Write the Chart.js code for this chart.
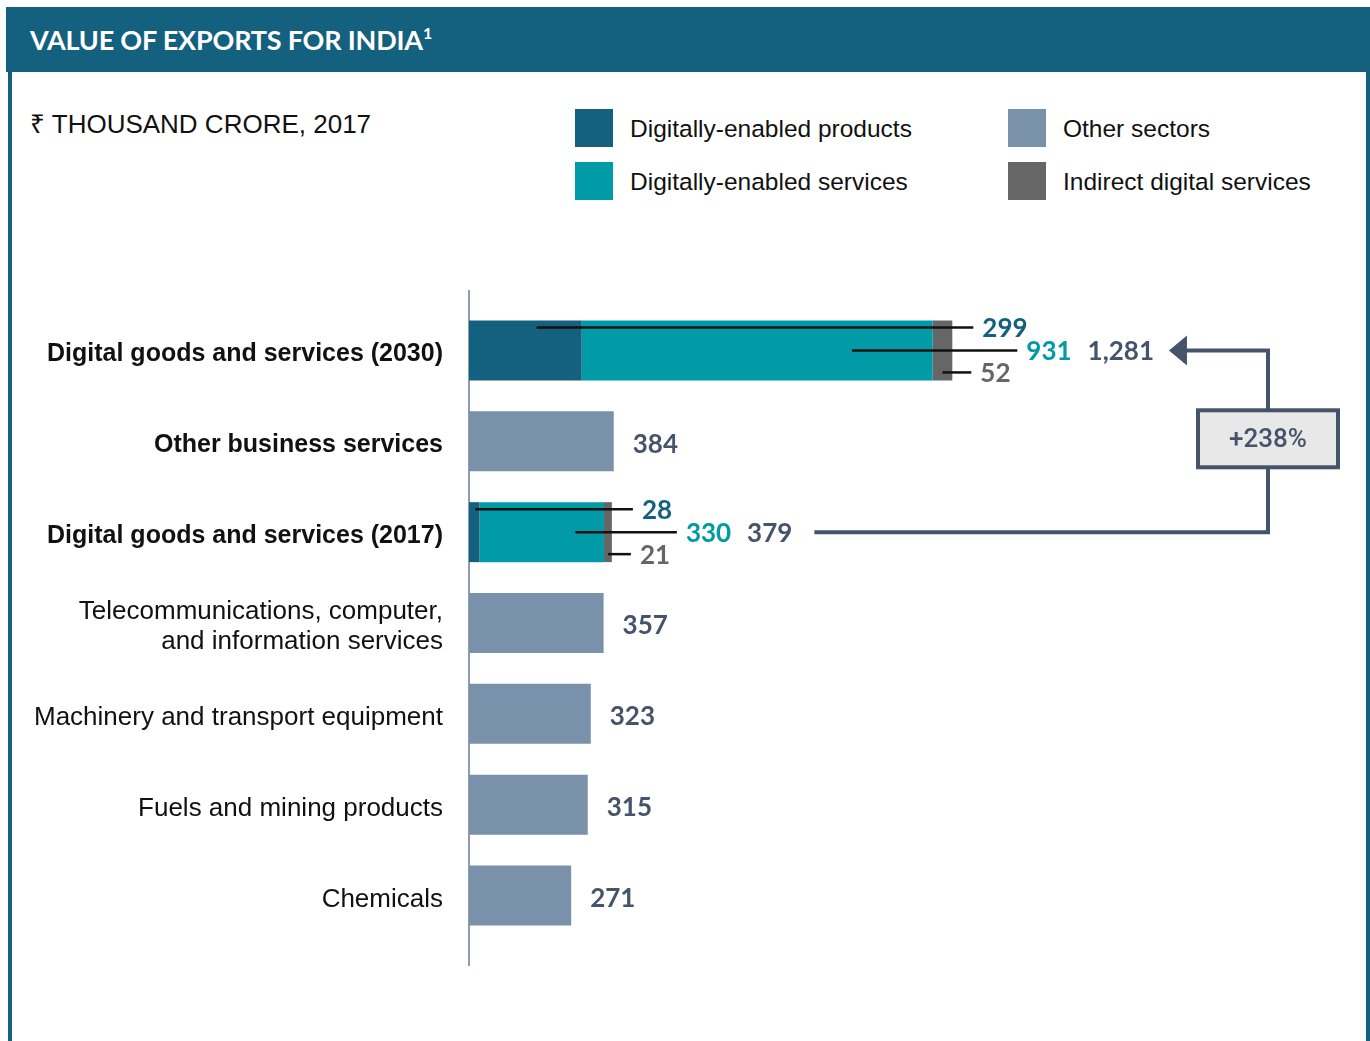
<!DOCTYPE html>
<html>
<head>
<meta charset="utf-8">
<script src="https://cdn.jsdelivr.net/npm/chart.js@4/dist/chart.umd.min.js"></script>
<style>
  html, body { margin: 0; padding: 0; background: #fff; }
  body { width: 1370px; height: 1041px; position: relative; overflow: hidden; font-family: "Liberation Sans", Arial, sans-serif; color: #111; }
  .frame { position: absolute; left: 8px; top: 7px; width: 1354px; height: 1040px; border-left: 4px solid #14607f; border-right: 4px solid #14607f; }
  .header { position: absolute; left: 6px; top: 7px; width: 1360px; height: 65px; background: #14607f; }
  .header h1 { margin: 0; position: absolute; left: 24px; top: 16px; font: 700 27px Lato, sans-serif; color: #fff; letter-spacing: -0.2px; }
  .header h1 sup { font-size: 16px; position: relative; top: -1px; }
  .subtitle { position: absolute; left: 30px; top: 105px; font-size: 26px; }
  .legend { position: absolute; font-size: 24.5px; }
  .legend i { position: absolute; left: 0; top: 0; width: 38px; height: 38px; }
  .legend span { position: absolute; left: 55px; top: 6px; white-space: nowrap; }
  #wrap { position: absolute; left: 0; top: 0; width: 1370px; height: 1041px; }
</style>
</head>
<body>
<div class="frame"></div>
<div class="header"><h1>VALUE OF EXPORTS FOR INDIA<sup>1</sup></h1></div>
<div class="subtitle">₹ THOUSAND CRORE, 2017</div>
<div class="legend" style="left:575px;top:109px"><i style="background:#14607f"></i><span>Digitally-enabled products</span></div>
<div class="legend" style="left:575px;top:162px"><i style="background:#009ba6"></i><span>Digitally-enabled services</span></div>
<div class="legend" style="left:1008px;top:109px"><i style="background:#7a91ab"></i><span>Other sectors</span></div>
<div class="legend" style="left:1008px;top:162px"><i style="background:#666666"></i><span>Indirect digital services</span></div>
<div id="wrap"><canvas id="exports" width="1370" height="1041"></canvas></div>
<script>
const categories = [
  'Digital goods and services (2030)',
  'Other business services',
  'Digital goods and services (2017)',
  ['Telecommunications, computer,', 'and information services'],
  'Machinery and transport equipment',
  'Fuels and mining products',
  'Chemicals'
];
const boldRows = [0, 1, 2];
const products = [299, null, 28, null, null, null, null];
const services = [931, null, 330, null, null, null, null];
const indirect = [52, null, 21, null, null, null, null];
const otherSectors = [null, 384, null, 357, 323, 315, 271];
const totals = [1281, null, 379, null, null, null, null];
const growth = '+238%';

const slate = '#45536b';
const valueFont = '700 26px Lato, sans-serif';

// leader lines, value labels and the growth bracket
const annotate = {
  id: 'annotate',
  beforeDatasetsDraw(chart) {
    const { ctx, chartArea } = chart;
    ctx.save();
    ctx.strokeStyle = '#8d9cb0';
    ctx.lineWidth = 2;
    ctx.beginPath();
    ctx.moveTo(chartArea.left, chartArea.top - 15);
    ctx.lineTo(chartArea.left, chartArea.bottom + 25);
    ctx.stroke();
    ctx.restore();
  },
  afterDatasetsDraw(chart) {
    const { ctx, scales: { x, y }, chartArea } = chart;
    ctx.save();
    ctx.font = valueFont;
    ctx.textBaseline = 'middle';
    ctx.textAlign = 'left';

    otherSectors.forEach((v, i) => {
      if (v == null) return;
      ctx.fillStyle = slate;
      ctx.fillText(v, x.getPixelForValue(v) + 19, y.getPixelForValue(i) + 3);
    });

    const totalEnds = {};
    [0, 2].forEach(i => {
      const c = y.getPixelForValue(i);
      const p0 = x.getPixelForValue(0);
      const p1 = x.getPixelForValue(products[i]);
      const p2 = x.getPixelForValue(products[i] + services[i]);
      const p3 = x.getPixelForValue(products[i] + services[i] + indirect[i]);
      const rows = [
        { from: p0 + (p1 - p0) * 0.6, to: p3 + 21, dy: -23, val: products[i], color: '#14607f' },
        { from: p1 + (p2 - p1) * 0.77, to: p3 + 65, dy: 0, val: services[i], color: '#009ba6' },
        { from: (p2 + p3) / 2, to: p3 + 19, dy: 22, val: indirect[i], color: '#666666' }
      ];
      let afterMid = 0;
      rows.forEach(r => {
        ctx.strokeStyle = '#111';
        ctx.lineWidth = 2.5;
        ctx.beginPath();
        ctx.moveTo(r.from, c + r.dy);
        ctx.lineTo(r.to, c + r.dy);
        ctx.stroke();
        ctx.fillStyle = r.color;
        ctx.fillText(r.val, r.to + 9, c + r.dy + 1);
        if (r.dy === 0) afterMid = r.to + 9 + ctx.measureText(String(r.val)).width;
      });
      const t = totals[i].toLocaleString('en-US');
      ctx.fillStyle = slate;
      ctx.fillText(t, afterMid + 16, c + 1);
      totalEnds[i] = afterMid + 16 + ctx.measureText(t).width;
    });

    // bracket from 2017 to 2030
    const c0 = y.getPixelForValue(0);
    const c2 = y.getPixelForValue(2);
    const vx = chartArea.right + 45;
    const tip = totalEnds[0] + 15;
    ctx.strokeStyle = slate;
    ctx.fillStyle = slate;
    ctx.lineWidth = 4;
    ctx.beginPath();
    ctx.moveTo(totalEnds[2] + 22, c2);
    ctx.lineTo(vx, c2);
    ctx.lineTo(vx, c0);
    ctx.lineTo(tip + 14, c0);
    ctx.stroke();
    ctx.beginPath();
    ctx.moveTo(tip, c0);
    ctx.lineTo(tip + 18, c0 - 15);
    ctx.lineTo(tip + 18, c0 + 15);
    ctx.closePath();
    ctx.fill();

    const by = (c0 + c2) / 2 - 3;
    ctx.fillStyle = '#e8e8e8';
    ctx.fillRect(vx - 70, by - 28, 140, 57);
    ctx.lineWidth = 4;
    ctx.strokeRect(vx - 70, by - 28, 140, 57);
    ctx.fillStyle = slate;
    ctx.font = '500 26px Roboto, "Liberation Sans", sans-serif';
    ctx.textAlign = 'center';
    ctx.fillText(growth, vx, by + 2);
    ctx.restore();
  }
};

const bar = (label, data, color) => ({
  label, data, backgroundColor: color, borderWidth: 0,
  categoryPercentage: 0.66, barPercentage: 1, stack: 'all'
});

new Chart(document.getElementById('exports').getContext('2d'), {
  type: 'bar',
  data: {
    labels: categories,
    datasets: [
      bar('Digitally-enabled products', products, '#14607f'),
      bar('Digitally-enabled services', services, '#009ba6'),
      bar('Indirect digital services', indirect, '#666666'),
      bar('Other sectors', otherSectors, '#7a91ab')
    ]
  },
  options: {
    indexAxis: 'y',
    responsive: false,
    animation: false,
    devicePixelRatio: 1,
    layout: { padding: { top: 305, bottom: 100, right: 147, left: 0 } },
    plugins: { legend: { display: false }, tooltip: { enabled: false } },
    scales: {
      x: { display: false, stacked: true, min: 0, max: 2000 },
      y: {
        stacked: true,
        grid: { display: false, drawTicks: false },
        border: { display: false },
        afterFit: scale => { scale.width = 469; },
        ticks: {
          autoSkip: false,
          padding: 26,
          labelOffset: 4,
          color: '#111',
          font: ctx => {
            const bold = boldRows.includes(ctx.index);
            return {
              family: '"Liberation Sans", Arial, sans-serif',
              size: bold ? 25 : 26,
              weight: bold ? 'bold' : 'normal',
              lineHeight: bold ? 1.2 : 1.15
            };
          }
        }
      }
    }
  },
  plugins: [annotate]
});
</script>
</body>
</html>
